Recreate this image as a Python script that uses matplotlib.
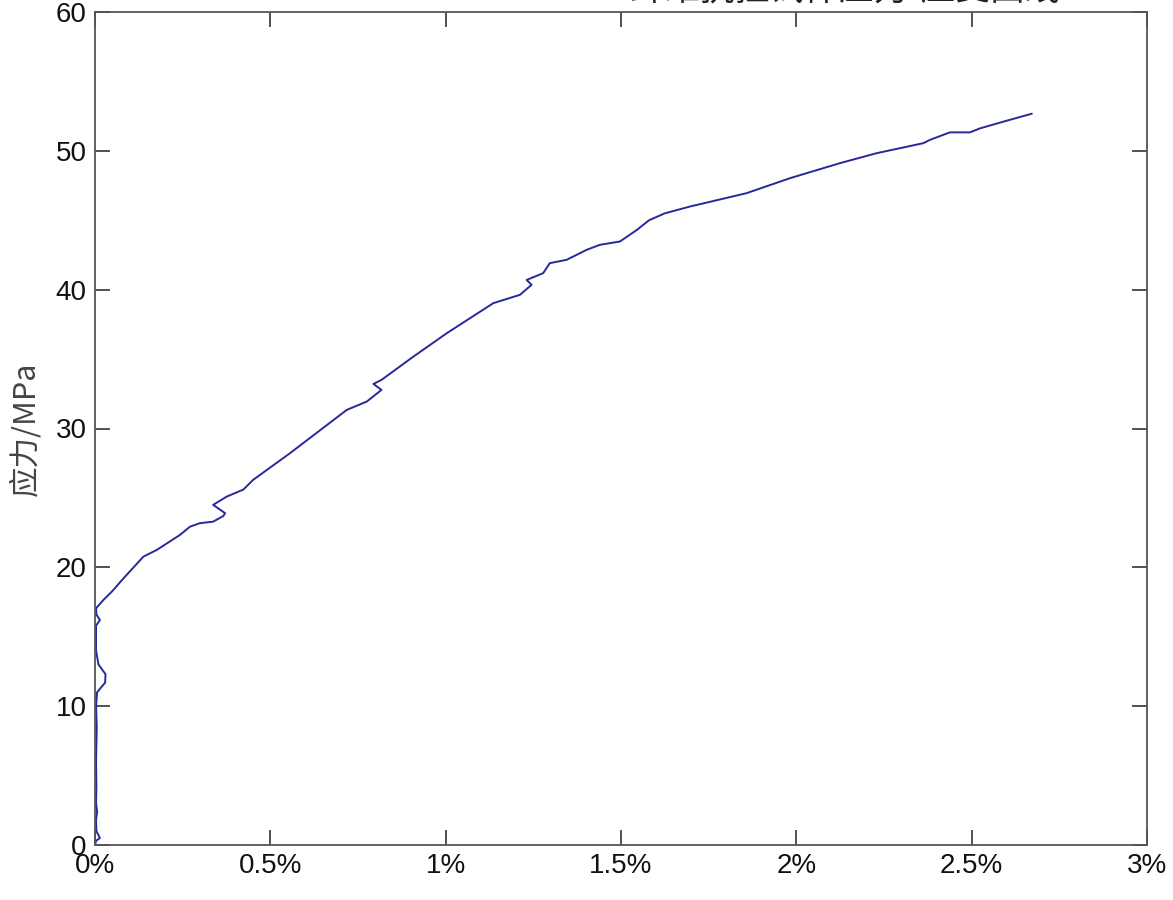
import matplotlib
matplotlib.use("Agg")
import matplotlib.pyplot as plt

# strain (%) and stress (MPa)
strain = [0.000, 0.003, 0.014, 0.004, 0.003, 0.006, 0.003, 0.004, 0.003, 0.005, 0.003,
          0.006, 0.029, 0.030, 0.010, 0.003, 0.003, 0.014, 0.004, 0.003,
          0.024, 0.048, 0.081, 0.138, 0.176, 0.242, 0.271, 0.299, 0.337, 0.366, 0.371,
          0.337, 0.376, 0.423, 0.451, 0.556, 0.718, 0.775, 0.817, 0.794, 0.817,
          0.908, 1.003, 1.136, 1.212, 1.245, 1.231, 1.278, 1.297, 1.345, 1.402,
          1.440, 1.497, 1.545, 1.580, 1.625, 1.697, 1.858, 1.982, 2.124, 2.229,
          2.362, 2.381, 2.438, 2.495, 2.524, 2.600, 2.671]
stress = [0.0, 0.3, 0.5, 1.0, 1.8, 2.4, 3.0, 4.2, 6.0, 8.5, 10.0,
          11.0, 11.7, 12.3, 13.0, 14.0, 15.8, 16.2, 16.6, 17.05,
          17.65, 18.25, 19.2, 20.77, 21.25, 22.33, 22.93, 23.18, 23.29, 23.7, 23.9,
          24.5, 25.1, 25.6, 26.3, 28.22, 31.34, 31.94, 32.78, 33.21, 33.5,
          35.18, 36.86, 39.03, 39.63, 40.35, 40.7, 41.19, 41.91, 42.15, 42.87,
          43.23, 43.47, 44.3, 45.0, 45.5, 45.99, 46.95, 48.03, 49.11, 49.83,
          50.55, 50.79, 51.33, 51.33, 51.62, 52.17, 52.67]

xticks = [0, 0.5, 1, 1.5, 2, 2.5, 3]
xticklabels = ["0%", "0.5%", "1%", "1.5%", "2%", "2.5%", "3%"]
yticks = [0, 10, 20, 30, 40, 50, 60]

plt.rcParams['font.family'] = ['Liberation Sans', 'Noto Sans CJK SC', 'DejaVu Sans']

fig = plt.figure(figsize=(11.73, 9.0), dpi=100)
ax = fig.add_axes([95 / 1173, 1 - 845 / 900, (1147 - 95) / 1173, (845 - 12) / 900])

ax.plot(strain, stress, color='#28289a', lw=1.4)

ax.set_xlim(0, 3)
ax.set_ylim(0, 60)
ax.set_xticks(xticks)
ax.set_xticklabels(xticklabels)
ax.set_yticks(yticks)
ax.tick_params(direction='in', length=11, width=1.2, colors='#333333', labelsize=20,
               top=True, right=True, labelcolor='#111111', pad=6)
for s in ax.spines.values():
    s.set_color('#555555')
    s.set_linewidth(1.3)

ax.set_ylabel("应力/MPa", fontsize=22, color='#444444',
              family=['Noto Sans CJK SC', 'Liberation Sans'], labelpad=10)

fig.text(0.531, 1 - 8 / 900, "C40-30MPa-E-2%-0.5%-CFS纤维抗拉试件应力-应变曲线",
         ha='center', va='bottom', fontsize=25, color='#222222',
         family=['Noto Sans CJK SC', 'Liberation Sans'])

fig.savefig("out.png", dpi=100, facecolor='white')
